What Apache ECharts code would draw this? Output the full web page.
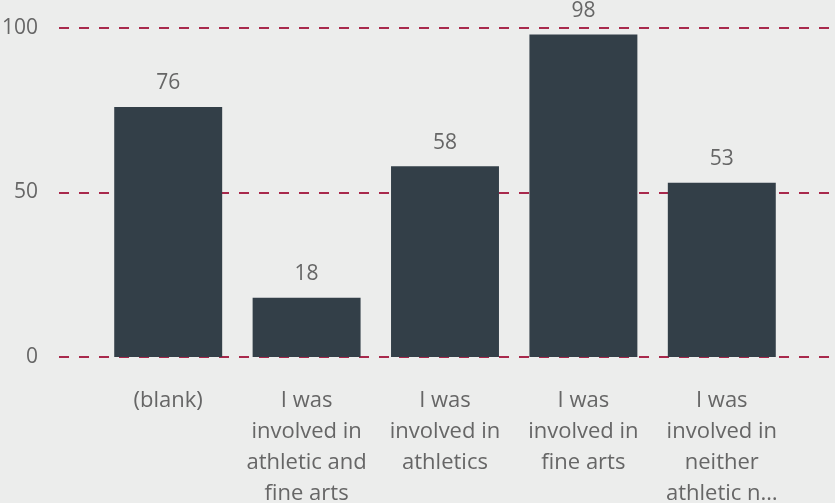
<!DOCTYPE html>
<html>
<head>
<meta charset="utf-8">
<script src="https://cdn.jsdelivr.net/npm/echarts@6/dist/echarts.min.js"></script>
<style>
  html, body { margin: 0; padding: 0; background: #ECEDEC; }
  #chart { width: 835px; height: 503px; }
</style>
</head>
<body>
<div id="chart"></div>
<script>
var categories = [
  "(blank)",
  "I was\ninvolved in\nathletic and\nfine arts",
  "I was\ninvolved in\nathletics",
  "I was\ninvolved in\nfine arts",
  "I was\ninvolved in\nneither\nathletic n\u2026"
];
var counts = [76, 18, 58, 98, 53];
var yTicks = [0, 50, 100];

var font = '"Open Sans", "Noto Sans", sans-serif';
var textGray = "#666666";
var barColor = "#333F48";
var gridRed = "#A8294C";

var chart = echarts.init(document.getElementById("chart"), null, { renderer: "canvas" });

chart.setOption({
  backgroundColor: "#ECEDEC",
  animation: false,
  grid: [
    // wide grid: carries the dashed lines and y labels across the full width
    { left: 59, right: 0, top: 28, bottom: 146, outerBoundsMode: "none" },
    // narrower grid for the bars themselves
    { left: 99, right: 44, top: 28, bottom: 146, outerBoundsMode: "none" }
  ],
  xAxis: [
    { type: "value", gridIndex: 0, min: 0, max: 1, show: false },
    {
      type: "category", gridIndex: 1, data: categories,
      axisLine: { show: false }, axisTick: { show: false },
      axisLabel: {
        color: textGray, fontFamily: font, fontSize: 22,
        lineHeight: 31, margin: 28, interval: 0
      }
    }
  ],
  yAxis: [
    {
      type: "value", gridIndex: 0, min: yTicks[0], max: yTicks[yTicks.length - 1], interval: 50,
      axisLine: { show: false }, axisTick: { show: false },
      axisLabel: { color: textGray, fontFamily: font, fontSize: 21, margin: 21 },
      splitLine: { lineStyle: { color: gridRed, width: 2, type: [10, 10] } }
    },
    {
      type: "value", gridIndex: 1, min: 0, max: 100, interval: 50, show: false,
      splitLine: { show: false }
    }
  ],
  series: [{
    type: "bar",
    xAxisIndex: 1, yAxisIndex: 1,
    data: counts,
    barCategoryGap: "22%",
    itemStyle: { color: barColor },
    label: {
      show: true, position: "top", distance: 13,
      color: textGray, fontFamily: font, fontSize: 21
    }
  }]
});
</script>
</body>
</html>
